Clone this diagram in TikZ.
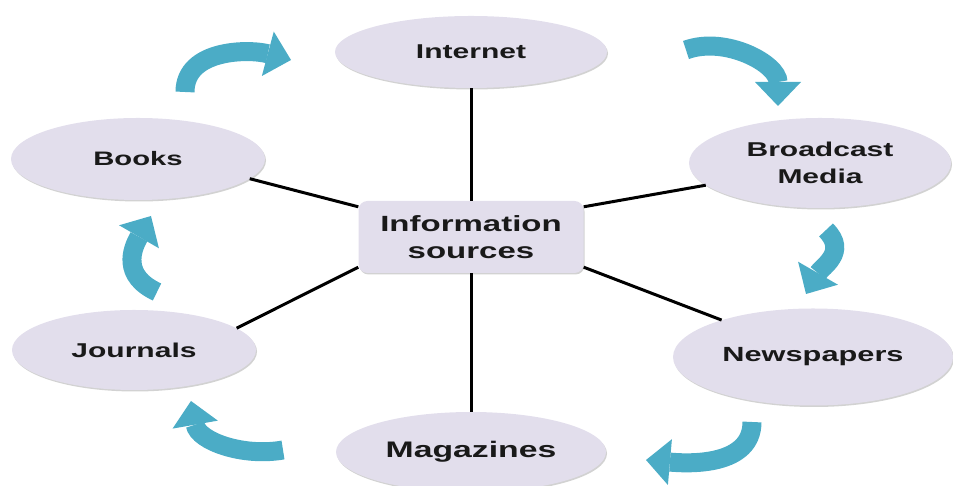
\documentclass[tikz,border=0pt]{standalone}
\usepackage{fontspec}
\newfontfamily\srcfont{Liberation Sans}[FakeStretch=1.5]
\usetikzlibrary{shapes,arrows.meta,shadows}
\definecolor{srcfill}{RGB}{226,222,236}
\definecolor{arcblue}{RGB}{75,172,198}
\tikzstyle{src} = [ellipse, fill=srcfill, inner sep=0pt, align=center, text=black!90,
  drop shadow={shadow xshift=1pt, shadow yshift=-1.5pt, fill=black!35}]
\tikzstyle{hub} = [rectangle, rounded corners=9pt, fill=srcfill, inner sep=0pt, align=center,
  minimum width=225pt, minimum height=72pt, text=black!90,
  drop shadow={shadow xshift=1pt, shadow yshift=-1.5pt, fill=black!35}]
\tikzstyle{link} = [draw, line width=3pt]
\tikzstyle{bluearc} = [draw=arcblue, line width=19pt,
  -{Triangle[width=46pt, length=24pt, line width=0pt]}]

\begin{document}
\begin{tikzpicture} [x=1pt, y=1pt, node distance = 185pt]

        \useasboundingbox (0,0) rectangle (953,486);

        \node[hub, font=\srcfont\bfseries\fontsize{22}{27}\selectfont] (info) at (471,249) {Information\\sources};
        \node[src, minimum width=272pt, minimum height=72pt, font=\srcfont\bfseries\fontsize{20}{27}\selectfont] (internet) [above of=info] {Internet};
        \node[src, minimum width=270pt, minimum height=80pt, font=\srcfont\bfseries\fontsize{22.5}{27}\selectfont] (magazines) [below of=info, node distance=215pt] {Magazines};
        \node[src, minimum width=262pt, minimum height=90pt, font=\srcfont\bfseries\fontsize{20}{27}\selectfont] (broadcast) at (820,323) {Broadcast\\Media};
        \node[src, minimum width=280pt, minimum height=97pt, font=\srcfont\bfseries\fontsize{20.5}{27}\selectfont] (newspapers) at (813,129) {Newspapers};
        \node[src, minimum width=254pt, minimum height=82pt, font=\srcfont\bfseries\fontsize{19.5}{27}\selectfont] (books) at (138,327) {Books};
        \node[src, minimum width=244pt, minimum height=80pt, font=\srcfont\bfseries\fontsize{20}{27}\selectfont] (journals) at (134,136) {Journals};

        \path [link] (internet) edge (info);
        \path [link] (magazines) edge (info);
        \path [link] (books.-10) edge (info.165);
        \path [link] (journals.12) edge (info.195);
        \path [link] (broadcast.191) edge (info.15);
        \path [link] (newspapers.158) edge (info.-15);

        \coordinate (t1) at (185,394);  \coordinate (h1) at (291,426);
        \coordinate (t2) at (686,436);  \coordinate (h2) at (778,380);
        \coordinate (t3) at (826,256);  \coordinate (h3) at (806,192);
        \coordinate (t4) at (752,64);   \coordinate (h4) at (646,26);
        \coordinate (t5) at (283,36);   \coordinate (h5) at (191,85);
        \coordinate (t6) at (157,194);  \coordinate (h6) at (151,270);

        \draw [bluearc] (t1) to[out=90, in=165] (h1);
        \draw [bluearc] (t2) to[out=20, in=90] (h2);
        \draw [bluearc] (t3) to[out=-45, in=60, looseness=1.2] (h3);
        \draw [bluearc] (t4) to[out=-90, in=-5] (h4);
        \draw [bluearc] (t5) to[out=190, in=-80] (h5);
        \draw [bluearc] (t6) to[out=155, in=-120, looseness=1.3] (h6);

        \end{tikzpicture}
\end{document}
